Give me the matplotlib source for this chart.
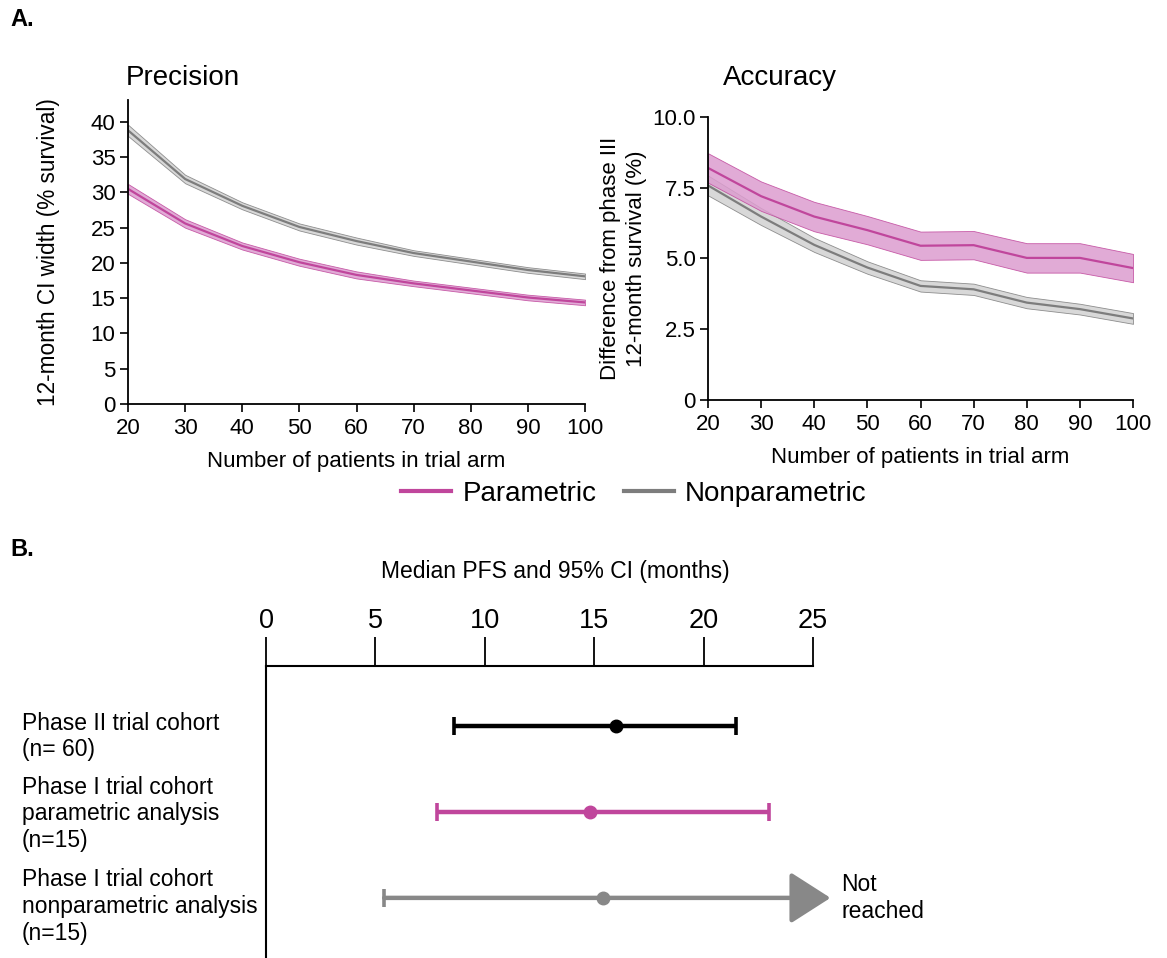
import matplotlib.pyplot as plt
import numpy as np
from matplotlib.lines import Line2D
from matplotlib import transforms

plt.rcParams['font.family'] = ['Liberation Sans', 'DejaVu Sans']

# ---- data ---------------------------------------------------------------
n_patients = [20, 30, 40, 50, 60, 70, 80, 90, 100]

# precision: 12-month CI width (% survival)
prec_par = [30.5, 25.6, 22.4, 20.1, 18.3, 17.1, 16.1, 15.1, 14.4]
prec_par_err = [0.7, 0.6, 0.5, 0.5, 0.5, 0.4, 0.4, 0.4, 0.4]
prec_non = [38.8, 31.9, 28.1, 25.1, 23.1, 21.4, 20.2, 19.0, 18.1]
prec_non_err = [0.8, 0.6, 0.5, 0.5, 0.5, 0.4, 0.4, 0.4, 0.4]

# accuracy: difference from phase III 12-month survival (%)
acc_par = [8.2, 7.2, 6.48, 6.0, 5.45, 5.47, 5.02, 5.02, 4.66]
acc_par_err = [0.52, 0.52, 0.52, 0.5, 0.5, 0.5, 0.52, 0.52, 0.5]
acc_non = [7.58, 6.48, 5.48, 4.68, 4.03, 3.91, 3.44, 3.21, 2.88]
acc_non_err = [0.35, 0.3, 0.25, 0.22, 0.2, 0.2, 0.2, 0.19, 0.19]

# forest plot: median PFS and 95% CI (months)
cohorts = ['Phase II trial cohort\n(n= 60)',
           'Phase I trial cohort\nparametric analysis\n(n=15)',
           'Phase I trial cohort\nnonparametric analysis\n(n=15)']
pfs_median = [16.0, 14.8, 15.4]
pfs_low = [8.6, 7.8, 5.4]
pfs_high = [21.5, 23.0, None]   # None = not reached
#------------------------------------------------------------------------------

PINK = '#c0469c'
PINK_FILL = '#dc9dcf'
GRAY = '#7d7d7d'
GRAY_FILL = '#d2d2d2'
FGRAY = '#888888'

fig = plt.figure(figsize=(11.67, 9.58), dpi=100)


def band(ax, x, y, err, line_c, fill_c, label):
    y = np.array(y)
    err = np.array(err)
    ax.fill_between(x, y - err, y + err, color=fill_c, alpha=0.85,
                    edgecolor=line_c, linewidth=0.6)
    ax.plot(x, y, color=line_c, lw=1.6, label=label)


def style(ax):
    for s in ['top', 'right']:
        ax.spines[s].set_visible(False)
    ax.spines['left'].set_linewidth(1.3)
    ax.spines['bottom'].set_linewidth(1.3)
    ax.tick_params(labelsize=16, length=6, width=1.2, pad=3)
    ax.tick_params(axis='x', pad=4)
    ax.set_xlim(20, 100)
    ax.set_xticks(n_patients)
    ax.set_xlabel('Number of patients in trial arm', fontsize=16, labelpad=9)


# ---- A. precision -------------------------------------------------------
ax1 = fig.add_axes([0.1097, 0.5783, 0.3916, 0.3173])
band(ax1, n_patients, prec_non, prec_non_err, GRAY, GRAY_FILL, 'Nonparametric')
band(ax1, n_patients, prec_par, prec_par_err, PINK, PINK_FILL, 'Parametric')
style(ax1)
ax1.set_ylim(0, 43.1)
ax1.set_yticks(np.arange(0, 41, 5))
ax1.set_ylabel('12-month CI width (% survival)', fontsize=16.3, labelpad=22)
fig.text(183 / 1167, 1 - 78 / 958, 'Precision', fontsize=20, ha='center', va='center')

# ---- A. accuracy --------------------------------------------------------
ax2 = fig.add_axes([0.6067, 0.5825, 0.3642, 0.2954])
band(ax2, n_patients, acc_non, acc_non_err, GRAY, GRAY_FILL, 'Nonparametric')
band(ax2, n_patients, acc_par, acc_par_err, PINK, PINK_FILL, 'Parametric')
style(ax2)
ax2.set_ylim(0, 10)
ax2.set_yticks([0, 2.5, 5, 7.5, 10])
ax2.set_yticklabels(['0', '2.5', '5.0', '7.5', '10.0'])
ax2.set_ylabel('Difference from phase III\n12-month survival (%)', fontsize=16,
               labelpad=4, linespacing=1.3)
fig.text(780 / 1167, 1 - 78 / 958, 'Accuracy', fontsize=20, ha='center', va='center')

handles = [Line2D([], [], color=PINK, lw=3), Line2D([], [], color=GRAY, lw=3)]
fig.legend(handles, ['Parametric', 'Nonparametric'], loc='center',
           bbox_to_anchor=(634 / 1167, 1 - 494 / 958), ncol=2, frameon=False,
           fontsize=20, handlelength=1.8, columnspacing=1.0, handletextpad=0.4)

fig.text(10 / 1167, 1 - 20 / 958, 'A.', fontsize=17, fontweight='bold', va='center')
fig.text(10 / 1167, 1 - 550 / 958, 'B.', fontsize=17, fontweight='bold', va='center')

# ---- B. forest plot -----------------------------------------------------
ax3 = fig.add_axes([266 / 1167, 0.0, (813 - 266) / 1167, 1 - 666 / 958])
ax3.set_xlim(0, 25)
ax3.set_ylim(0.3, 3.7)
for s in ['bottom', 'right']:
    ax3.spines[s].set_visible(False)
ax3.spines['top'].set_linewidth(1.5)
ax3.spines['left'].set_linewidth(1.5)
ax3.xaxis.tick_top()
ax3.xaxis.set_label_position('top')
ax3.set_xticks([0, 5, 10, 15, 20, 25])
ax3.tick_params(axis='x', length=21, width=1.3, labelsize=19.5, pad=2)
ax3.set_yticks([])
ax3.set_xlabel('Median PFS and 95% CI (months)', fontsize=16.5)
ax3.xaxis.set_label_coords(0.528, 1.30)

colors = ['black', PINK, FGRAY]
rows = [3, 2, 1]
label_off = [-0.12, -0.02, -0.1]
trans = transforms.blended_transform_factory(fig.transFigure, ax3.transData)
for y, med, lo, hi, c, lab, off in zip(rows, pfs_median, pfs_low, pfs_high,
                                       colors, cohorts, label_off):
    if hi is not None:
        ax3.plot([lo, hi], [y, y], color=c, lw=3.2, solid_capstyle='butt')
        ax3.plot([lo, hi], [y, y], ls='none', marker='|', ms=13, mew=2.6, color=c)
    else:
        ax3.plot([lo], [y], ls='none', marker='|', ms=13, mew=2.6, color=c)
        ax3.annotate('', xy=(25.8, y), xytext=(lo, y),
                     arrowprops=dict(arrowstyle='-|>,head_length=1.25,head_width=0.8',
                                     mutation_scale=20, lw=3.2, color=c,
                                     shrinkA=0, shrinkB=0),
                     annotation_clip=False)
        ax3.text(26.3, y, 'Not\nreached', fontsize=16.5, va='center', ha='left',
                 linespacing=1.2)
    ax3.plot([med], [y], 'o', color=c, ms=9, zorder=5)
    ax3.text(22 / 1167, y + off, lab, transform=trans, fontsize=16.5,
             va='center', ha='left', linespacing=1.2)

fig.savefig('out.png', dpi=100)
